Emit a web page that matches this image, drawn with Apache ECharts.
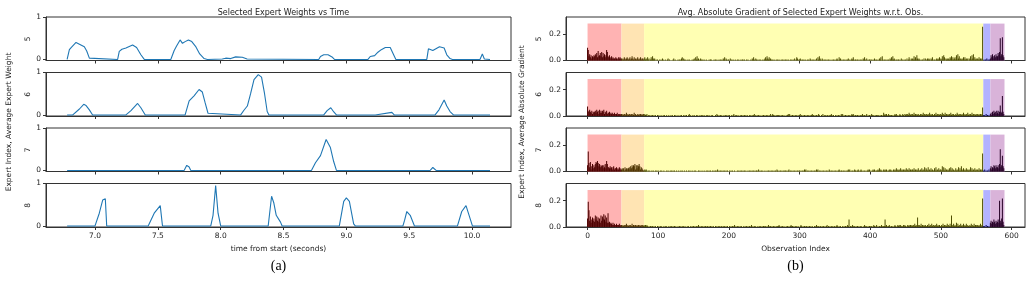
<!DOCTYPE html>
<html>
<head>
<meta charset="utf-8">
<script src="https://cdn.jsdelivr.net/npm/echarts@6/dist/echarts.min.js"></script>
<style>
  html, body { margin: 0; padding: 0; background: #fff; }
  #chart { width: 1032px; height: 288px; }
</style>
</head>
<body>
<div id="chart"></div>
<script>
// expert ids shown on each row
const experts = ["5", "6", "7", "8"];
const timeTicks = [7.0, 7.5, 8.0, 8.5, 9.0, 9.5, 10.0];
const obsTicks = [0, 100, 200, 300, 400, 500, 600];
const weightTicks = [0, 1];
const gradTicks = [0, 0.2];

// (a) average expert weight vs time, [seconds, weight]
const weight5 = [[6.778,0],[6.796,0.23],[6.81,0.28],[6.849,0.40],[6.876,0.36],[6.915,0.30],[6.934,0.20],[6.955,0.03],[6.968,0],
  [7.18,0],[7.193,0.19],[7.214,0.24],[7.246,0.27],[7.299,0.34],[7.331,0.28],[7.365,0.11],[7.392,0],
  [7.603,0],[7.63,0.21],[7.648,0.31],[7.677,0.46],[7.696,0.38],[7.717,0.42],[7.743,0.46],[7.77,0.42],[7.80,0.31],[7.833,0.13],[7.868,0.02],[7.894,0],
  [8.013,0.01],[8.04,0.03],[8.08,0.02],[8.119,0.06],[8.172,0.05],[8.21,0.01],[8.78,0],[8.794,0.07],[8.82,0.11],[8.854,0.11],[8.886,0.06],[8.905,0],
  [9.172,0],[9.19,0.07],[9.225,0.09],[9.251,0.17],[9.278,0.23],[9.31,0.28],[9.349,0.28],[9.376,0.11],[9.394,0],
  [9.64,0],[9.653,0.25],[9.688,0.21],[9.741,0.30],[9.778,0.27],[9.799,0.11],[9.825,0.02],[9.844,0],
  [10.063,0],[10.082,0.13],[10.098,0.01],[10.143,0]];
const weight6 = [[6.778,0],[6.823,0],[6.876,0.14],[6.91,0.25],[6.929,0.22],[6.955,0.12],[6.981,0],
  [7.246,0],[7.286,0.10],[7.339,0.27],[7.365,0.17],[7.40,0],
  [7.717,0],[7.749,0.33],[7.788,0.45],[7.828,0.60],[7.854,0.54],[7.876,0.29],[7.899,0.04],[7.913,0],
  [8.159,0],[8.185,0.11],[8.212,0.21],[8.238,0.50],[8.265,0.83],[8.299,0.95],[8.325,0.89],[8.349,0.50],[8.37,0.08],[8.384,0],
  [8.82,0],[8.847,0.10],[8.876,0.17],[8.90,0.07],[8.921,0],[9.23,0],[9.362,0.06],[9.381,0],
  [9.706,0],[9.737,0.12],[9.778,0.35],[9.799,0.21],[9.825,0.08],[9.852,0],[10.143,0]];
const weight7 = [[6.778,0],[7.709,0],[7.73,0.12],[7.749,0.08],[7.762,0],
  [8.722,0],[8.754,0.18],[8.794,0.35],[8.839,0.73],[8.873,0.54],[8.899,0.21],[8.921,0],
  [9.667,0],[9.688,0.07],[9.714,0],[10.143,0]];
const weight8 = [[6.778,0],[7.0,0],[7.034,0.30],[7.061,0.61],[7.082,0.64],[7.093,0],
  [7.423,0],[7.471,0.30],[7.519,0.48],[7.537,0],
  [7.921,0],[7.939,0.25],[7.96,0.95],[7.979,0.30],[8.0,0],
  [8.378,0],[8.405,0.70],[8.423,0.54],[8.442,0.25],[8.476,0.09],[8.489,0],
  [8.944,0],[8.979,0.58],[9.0,0.66],[9.024,0.58],[9.058,0.05],[9.071,0],
  [9.45,0],[9.463,0.13],[9.481,0.34],[9.508,0.25],[9.542,0],
  [9.884,0],[9.918,0.34],[9.952,0.48],[9.966,0.46],[10.003,0],[10.143,0]];
const weights = [weight5, weight6, weight7, weight8];

// (b) avg abs gradient per observation 0..589, one base-36 digit per bar, in steps of GRAD_STEP
const GRAD_STEP = 0.008;
const grad5 =
  "ca46352435 4657394574 8374635a84 3532423222 32213232" +
  "2121321232 1231242131 2123121312 21" +
  "2312131201 3142120101 0010102100 1001201000 0120100010 1012302101 0010100010 1203141201 2101010010 0010110001" +
  "0101001010 1021302101 1020101001 0010100101 1010010100 0102131021 0101010010 1231421312 1010100101 0100101010" +
  "1010100101 0102013201 1210101010 0101021010 1010203142 1021010101 0101001010 1012103120 1010101012 0101213101" +
  "1010101010 2131020101 1010102101 0102130410 1010101021 3141210101 1010201010 1020131021 2141315212 1010102020" +
  "1212102131 0101212131 2141530212 1213241312 3151624121 2131312120 2141526131 212131212w" +
  "0101020101" +
  "2536425364 4758l46m53";
const grad6 =
  "9456435243 4536452635 3546243523 3423232232 22312212" +
  "2121221312 1221212131 2112121212 12" +
  "1211201010 1010101001 0100100101 0010010010 1001010010 0101001010 1001201001 0100101001 0101010010 1010010100" +
  "0102101010 1001010101 0100101201 0101001010 1010101001 0101012010 1010100101 0101010102 0121010101 1010101010" +
  "0101212010 1010101010 1201010101 0101010121 1010101210 0102010101 1010121010 0101010102 1201010101 0101212101" +
  "1010101012 1010120101 0121010101 1010101013 1212102101 1010121201 0121012102 1212132121 2131212121 1212131212" +
  "2121312121 1213121212 2131213121 2121312121 1213212121 2131212131 2121312121 2121212128" +
  "1010201010" +
  "2314253425 3524a43j42";
const grad7 =
  "6j84925736 4798a85746 5636473a74 4353424523 34232432" +
  "2323142323 3425364657 2636575243 21" +
  "1212101010 0101001010 1001010010 0010100101 0101001001 0010100100 1001010010 0101000101 0010010010 1010100101" +
  "0101201010 1010101010 0101010010 0010101010 1010100101 0101010101 1020101010 0100101010 1010101021 0101010101" +
  "1010120101 0101010101 1010101212 0101010101 0101212010 1010101010 1021010101 0101012101 1010101012 1201010121" +
  "1012101210 1010101212 0101212101 1213121012 1212101212 1012121312 1213121212 1312131212 2131212131 1213121413" +
  "2141213121 1314121312 2151413121 2131413121 1312141315 2131213121 2141312131 212131212h" +
  "1020101020" +
  "3524365364 4637l46f53";
const grad8 =
  "8og6a47968 5b7a69584b 6a8c7b594d 4534324232 23222312" +
  "2121212312 1212131212 2121212121 21" +
  "2121210101 1010101001 0101010010 1010010101 0101010010 1010101010 0101001010 1010101201 0101010101 1010101010" +
  "0101010101 1010101010 0101010120 1010101010 0101010101 1020101010 0101010101 1010102101 0101010101 1210101010" +
  "0101010121 1010101010 0121010101 1010101010 0101210101 1010101012 0101010101 1012101010 0101010121 7010121010" +
  "1010101010 0121010101 1010121012 0101012101 1712101210 1010121012 1212101212 1012121212 1213121921 2131212121" +
  "1213121312 2121312121 1213121213 12131b2131 2141312131 2131213121 1213121312 212121312r" +
  "1010201010" +
  "4635475364 574p648r52";
const grads = [grad5, grad6, grad7, grad8];

// highlighted observation ranges; the bars show through them darkened
const spanRanges = [[0, 48], [48, 80], [80, 560], [560, 570], [570, 590]];
const spanColors = ["#ffb3b3", "#ffe4b3", "#ffffb3", "#b3b3ff", "#d9b3d9"];
const barColors = ["#4d0000", "#4d3200", "#4d4d00", "#00004d", "#260026"];
const SPAN_TOP = 0.28;

function decodeGrad(str) {
  return str.replace(/\s/g, "").split("").map((c, i) => [i, parseInt(c, 36) * GRAD_STEP]);
}
function barColor(i) {
  for (let k = 0; k < spanRanges.length; k++) {
    if (i >= spanRanges[k][0] && i < spanRanges[k][1] - 0.5) return barColors[k];
  }
  return "#000";
}

var myChart = echarts.init(document.getElementById("chart"));

const FONT = "DejaVu Sans";
const AXIS_COLOR = "#333";
const tops = [17, 72.5, 128, 183.5];
const H = 43.5;

var grid = [], xAxis = [], yAxis = [], series = [];

for (let r = 0; r < 4; r++) {
  const last = r === 3;
  // left column
  grid.push({ left: 46, width: 465, top: tops[r], height: H, show: true, borderColor: AXIS_COLOR, borderWidth: 1 });
  // right column
  grid.push({ left: 566, width: 459, top: tops[r], height: H, show: true, borderColor: AXIS_COLOR, borderWidth: 1 });

  xAxis.push({
    gridIndex: 2 * r, type: "value", min: 6.61, max: 10.31,
    axisLine: { onZero: false, lineStyle: { color: AXIS_COLOR } },
    axisTick: { show: true, length: 3, customValues: timeTicks, lineStyle: { color: AXIS_COLOR } },
    axisLabel: { show: last, customValues: timeTicks, fontFamily: FONT, fontSize: 7.5, color: "#222", margin: 5,
      formatter: (v) => v.toFixed(1) },
    splitLine: { show: false },
    name: last ? "time from start (seconds)" : "", nameLocation: "middle", nameGap: 18,
    nameTextStyle: { fontFamily: FONT, fontSize: 7.5, color: "#222" },
  });
  xAxis.push({
    gridIndex: 2 * r + 1, type: "value", min: -30.5, max: 619,
    axisLine: { onZero: false, lineStyle: { color: AXIS_COLOR } },
    axisTick: { show: true, length: 3, customValues: obsTicks, lineStyle: { color: AXIS_COLOR } },
    axisLabel: { show: last, customValues: obsTicks, fontFamily: FONT, fontSize: 7.5, color: "#222", margin: 5 },
    splitLine: { show: false },
    name: last ? "Observation Index" : "", nameLocation: "middle", nameGap: 18,
    nameTextStyle: { fontFamily: FONT, fontSize: 7.5, color: "#222" },
  });

  yAxis.push({
    gridIndex: 2 * r, type: "value", min: -0.025, max: 1,
    axisLine: { show: true, onZero: false, lineStyle: { color: AXIS_COLOR } },
    axisTick: { show: true, length: 3, customValues: weightTicks, lineStyle: { color: AXIS_COLOR } },
    axisLabel: { customValues: weightTicks, fontFamily: FONT, fontSize: 7.5, color: "#222", margin: 5 },
    splitLine: { show: false },
    name: experts[r], nameLocation: "middle", nameGap: 14, nameRotate: 90,
    nameTextStyle: { fontFamily: FONT, fontSize: 7.5, color: "#222" },
  });
  yAxis.push({
    gridIndex: 2 * r + 1, type: "value", min: 0, max: 0.33,
    axisLine: { show: true, onZero: false, lineStyle: { color: AXIS_COLOR } },
    axisTick: { show: true, length: 3, customValues: gradTicks, lineStyle: { color: AXIS_COLOR } },
    axisLabel: { customValues: gradTicks, fontFamily: FONT, fontSize: 7.5, color: "#222", margin: 5,
      formatter: (v) => v.toFixed(1) },
    splitLine: { show: false },
    name: experts[r], nameLocation: "middle", nameGap: 23, nameRotate: 90,
    nameTextStyle: { fontFamily: FONT, fontSize: 7.5, color: "#222" },
  });

  series.push({
    type: "line", xAxisIndex: 2 * r, yAxisIndex: 2 * r,
    data: weights[r], symbol: "none", silent: true,
    lineStyle: { color: "#1f77b4", width: 1.1 },
  });
  series.push({
    type: "bar", xAxisIndex: 2 * r + 1, yAxisIndex: 2 * r + 1,
    data: decodeGrad(grads[r]), barWidth: 0.7, silent: true,
    itemStyle: { color: (p) => barColor(p.dataIndex) },
    markArea: {
      silent: true,
      data: spanRanges.map((s, k) => [
        { xAxis: s[0], yAxis: 0, itemStyle: { color: spanColors[k], opacity: 1 } },
        { xAxis: s[1], yAxis: SPAN_TOP },
      ]),
    },
  });
}

var option = {
  animation: false,
  backgroundColor: "#fff",
  title: [
    { text: "Selected Expert Weights vs Time", left: 278.5, top: 4, textAlign: "center",
      textStyle: { fontFamily: FONT, fontSize: 8, fontWeight: "normal", color: "#222" } },
    { text: "Avg. Absolute Gradient of Selected Expert Weights w.r.t. Obs.", left: 795.5, top: 4, textAlign: "center",
      textStyle: { fontFamily: FONT, fontSize: 8, fontWeight: "normal", color: "#222" } },
  ],
  grid: grid,
  xAxis: xAxis,
  yAxis: yAxis,
  series: series,
  graphic: [
    { type: "text", x: 9, y: 122, rotation: Math.PI / 2,
      style: { text: "Expert Index, Average Expert Weight", font: "7.5px 'DejaVu Sans'", fill: "#222", align: "center", verticalAlign: "middle" } },
    { type: "text", x: 522, y: 122, rotation: Math.PI / 2,
      style: { text: "Expert Index, Average Absolute Gradient", font: "7.5px 'DejaVu Sans'", fill: "#222", align: "center", verticalAlign: "middle" } },
    { type: "text", x: 278.5, y: 266,
      style: { text: "(a)", font: "14px 'Liberation Serif'", fill: "#000", align: "center", verticalAlign: "middle" } },
    { type: "text", x: 795.5, y: 266,
      style: { text: "(b)", font: "14px 'Liberation Serif'", fill: "#000", align: "center", verticalAlign: "middle" } },
  ],
};

myChart.setOption(option);
</script>
</body>
</html>
